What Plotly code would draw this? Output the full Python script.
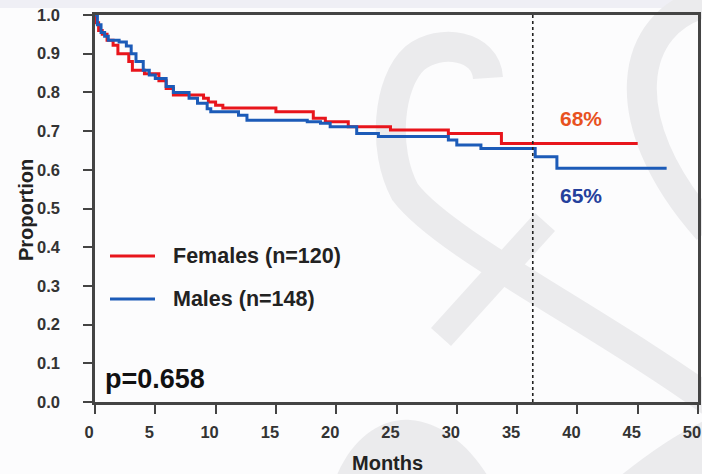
import plotly.graph_objects as go

# ---- data ----
fem_t = [0, 0.1, 0.3, 0.6, 1.0, 1.5, 1.9, 2.8, 3.1, 4.1, 5.3, 5.9, 6.5, 9.0, 9.4, 10.0, 10.6,
         15.0, 18.1, 19.1, 21.0, 24.5, 29.3, 33.7, 45.0]
fem_s = [1.0, 0.98, 0.96, 0.95, 0.935, 0.922, 0.90, 0.88, 0.857, 0.848, 0.83, 0.81, 0.793, 0.785,
         0.775, 0.767, 0.76, 0.75, 0.733, 0.724, 0.711, 0.703, 0.694, 0.668, 0.668]

male_t = [0, 0.2, 0.5, 0.8, 1.1, 2.0, 2.6, 3.0, 3.4, 4.0, 4.5, 5.0, 5.9, 6.5, 7.8, 8.5, 9.3, 9.6,
          11.9, 12.6, 17.6, 18.7, 19.5, 21.7, 23.5, 29.3, 30.0, 32.0, 36.5, 38.3, 47.4]
male_s = [1.0, 0.975, 0.955, 0.945, 0.935, 0.93, 0.92, 0.90, 0.88, 0.857, 0.845, 0.836, 0.815,
          0.80, 0.785, 0.772, 0.758, 0.75, 0.741, 0.728, 0.724, 0.72, 0.711, 0.694, 0.686, 0.677,
          0.664, 0.655, 0.634, 0.604, 0.604]

series_names = ["Females (n=120)", "Males (n=148)"]
cutoff_month = 36.3
pct_labels = ["68%", "65%"]
p_label = "p=0.658"
x_ticks = [0, 5, 10, 15, 20, 25, 30, 35, 40, 45, 50]
y_ticks = [0.0, 0.1, 0.2, 0.3, 0.4, 0.5, 0.6, 0.7, 0.8, 0.9, 1.0]

RED = "#e8151c"
BLUE = "#1c5bb8"
W, H = 702, 474
L, R, T, B = 95, 4, 15, 72
PW, PH = W - L - R, H - T - B

fig = go.Figure()
fig.add_trace(go.Scatter(x=fem_t, y=fem_s, mode="lines", line=dict(color=RED, width=3, shape="hv"),
                         name=series_names[0], showlegend=False))
fig.add_trace(go.Scatter(x=male_t, y=male_s, mode="lines", line=dict(color=BLUE, width=3, shape="hv"),
                         name=series_names[1], showlegend=False))

# pixel -> paper coordinates
def px2x(px):
    return (px - L) / PW

def py2y(py):
    return (H - B - py) / PH

def P(px, py):
    return f"{px2x(px):.4f},{py2y(py):.4f}"

WM = "#ebebed"
shapes = []
shapes.append(dict(type="rect", xref="paper", yref="paper",
                   x0=px2x(-2), x1=px2x(W + 2), y0=py2y(8), y1=py2y(-2),
                   fillcolor="#efeff5", line=dict(width=0), layer="below"))
paths = [
    (f"M {P(488,78)} C {P(486,45)} {P(440,38)} {P(415,58)} C {P(388,82)} {P(382,150)} {P(405,192)} "
     f"C {P(445,245)} {P(600,320)} {P(725,412)}", 30, False),
    (f"M {P(441,337)} L {P(545,222)}", 27, False),
    (f"M {P(708,2)} C {P(630,20)} {P(610,120)} {P(708,230)}", 30, False),
    (f"M {P(335,480)} C {P(350,440)} {P(380,418)} {P(410,420)} C {P(440,422)} {P(470,445)} {P(490,480)} Z", 0, True),
    (f"M {P(615,480)} C {P(650,452)} {P(680,432)} {P(710,418)} L {P(710,480)} Z", 0, True),
]
for d, w, filled in paths:
    if filled:
        shapes.append(dict(type="path", xref="paper", yref="paper", path=d, fillcolor=WM,
                           line=dict(width=0), layer="below"))
    else:
        shapes.append(dict(type="path", xref="paper", yref="paper", path=d,
                           line=dict(color=WM, width=w), layer="below"))

# dotted vertical line at cutoff
shapes.append(dict(type="line", xref="x", yref="paper", x0=cutoff_month, x1=cutoff_month, y0=0, y1=1,
                   line=dict(color="#222", width=1.6, dash="dot")))

# legend keys (drawn manually to match the reference spacing)
legend_rows = [(256, RED), (299, BLUE)]
for (ly, col) in legend_rows:
    shapes.append(dict(type="line", xref="paper", yref="paper", x0=px2x(110), x1=px2x(155),
                       y0=py2y(ly), y1=py2y(ly), line=dict(color=col, width=3)))

font_main = "Liberation Sans, Arial, sans-serif"
annotations = [
    dict(x=40.3, y=py2y(118), xref="x", yref="paper", text=pct_labels[0], xanchor="center", yanchor="middle",
         showarrow=False, font=dict(family=font_main, size=21, color="#e8521f", weight="bold")),
    dict(x=40.3, y=py2y(195), xref="x", yref="paper", text=pct_labels[1], xanchor="center", yanchor="middle",
         showarrow=False, font=dict(family=font_main, size=21, color="#24409c", weight="bold")),
    dict(x=px2x(103), y=py2y(379), xref="paper", yref="paper", xanchor="left", yanchor="middle",
         text=p_label, showarrow=False,
         font=dict(family=font_main, size=27, color="#111", weight="bold")),
    dict(x=px2x(387), y=py2y(463), xref="paper", yref="paper", xanchor="center", yanchor="middle",
         text="Months", showarrow=False, font=dict(family=font_main, size=20, color="#222", weight="bold")),
    dict(x=px2x(26), y=py2y(210), xref="paper", yref="paper", xanchor="center", yanchor="middle",
         text="Proportion", showarrow=False, textangle=-90,
         font=dict(family=font_main, size=20, color="#222", weight="bold")),
]
for name, (ly, col) in zip(series_names, legend_rows):
    annotations.append(dict(x=px2x(171), y=py2y(ly), xref="paper", yref="paper", xanchor="left",
                            yanchor="middle", text=name, showarrow=False,
                            font=dict(family=font_main, size=21.5, color="#222", weight="bold")))

axis_common = dict(showline=True, linecolor="#444", linewidth=2.5, mirror=True, showgrid=False,
                   zeroline=False, ticks="outside", ticklen=9, tickwidth=2, tickcolor="#444",
                   automargin=False,
                   tickfont=dict(family=font_main, size=16.5, color="#333", weight="bold"))

fig.update_layout(
    width=W, height=H, margin=dict(l=L, r=R, t=T, b=B, autoexpand=False),
    paper_bgcolor="#fcfcfd", plot_bgcolor="rgba(0,0,0,0)",
    xaxis=dict(range=[0, 50], tickvals=x_ticks, ticklabelstandoff=4, ticklabelshift=-6, **axis_common),
    yaxis=dict(range=[0, 1], tickvals=y_ticks, tickformat=".1f", ticklabelstandoff=20, **axis_common),
    showlegend=False,
    shapes=shapes, annotations=annotations,
)

fig.write_html("out.html", config={"displayModeBar": False},
               post_script="document.body.style.margin='0';document.body.style.background='#fcfcfd';")
